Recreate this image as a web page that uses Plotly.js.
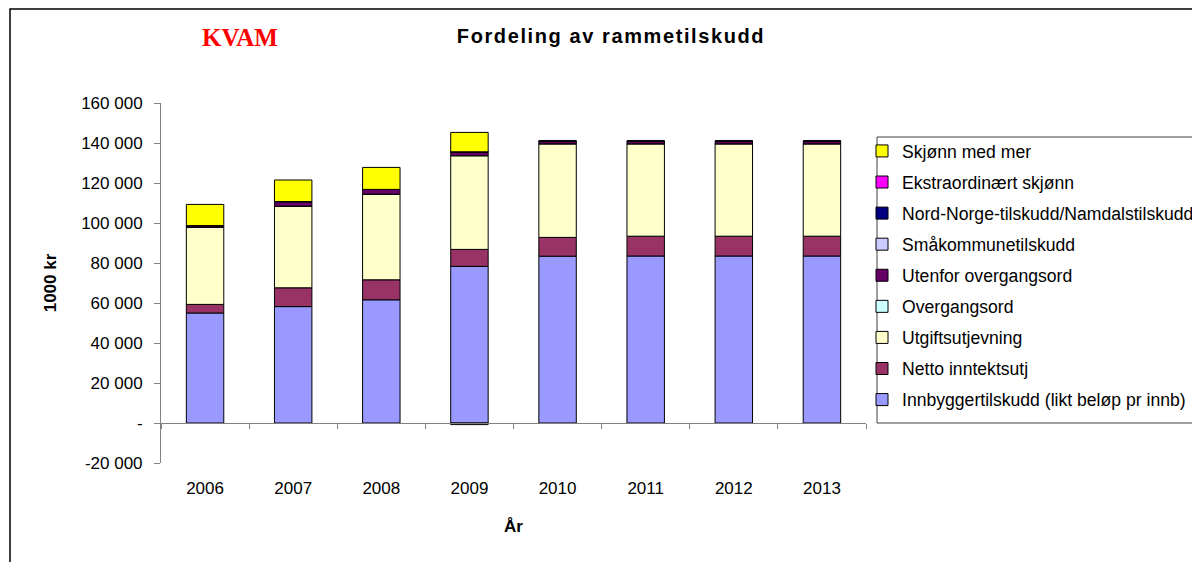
<!DOCTYPE html>
<html>
<head>
<meta charset="utf-8">
<script src="https://cdn.plot.ly/plotly-3.0.1.min.js"></script>
<style>
  html, body { margin: 0; padding: 0; background: #fff; }
  #chart { width: 1192px; height: 562px; }
  .gtitle { letter-spacing: 1.6px; }
</style>
</head>
<body>
<div id="chart"></div>
<script>
const years = ["2006", "2007", "2008", "2009", "2010", "2011", "2012", "2013"];

const innbyggertilskudd = [55000, 58200, 61600, 78300, 83400, 83500, 83500, 83500];
const nettoInntektsutj  = [4300, 9400, 10000, 8500, 9400, 9900, 9900, 9900];
const utgiftsutjevning  = [38600, 40800, 42800, 46800, 46800, 46200, 46200, 46200];
const overgangsord      = [0, 0, 0, -800, 0, 0, 0, 0];
const utenforOvergang   = [800, 2300, 2400, 2000, 1300, 1300, 1300, 1300];
const smakommune        = [0, 0, 0, 0, 0, 0, 0, 0];
const nordNorge         = [0, 0, 0, 0, 0, 0, 0, 0];
const ekstraordinaert   = [0, 0, 0, 0, 0, 0, 0, 0];
const skjonnMedMer      = [10600, 10800, 11000, 9700, 0, 0, 0, 0];

const yTickVals  = [-20000, 0, 20000, 40000, 60000, 80000, 100000, 120000, 140000, 160000];
const yTickText  = ["-20 000", "-", "20 000", "40 000", "60 000", "80 000", "100 000", "120 000", "140 000", "160 000"];

const seriesDefs = [
  ["Innbyggertilskudd (likt beløp pr innb)", innbyggertilskudd, "#9999FF"],
  ["Netto inntektsutj", nettoInntektsutj, "#993366"],
  ["Utgiftsutjevning", utgiftsutjevning, "#FFFFCC"],
  ["Overgangsord", overgangsord, "#CCFFFF"],
  ["Utenfor overgangsord", utenforOvergang, "#660066"],
  ["Småkommunetilskudd", smakommune, "#CCCCFF"],
  ["Nord-Norge-tilskudd/Namdalstilskudd", nordNorge, "#000080"],
  ["Ekstraordinært skjønn", ekstraordinaert, "#FF00FF"],
  ["Skjønn med mer", skjonnMedMer, "#FFFF00"]
];

const FONT = "Liberation Sans, Arial, sans-serif";

const traces = seriesDefs.map(function (d, i) {
  return {
    type: "bar",
    name: d[0],
    x: years,
    y: d[1],
    legendgroup: "g" + i,
    legendrank: 1000 - i,
    marker: { color: d[2], line: { color: "#000000", width: 1 } },
    hoverinfo: "x+y+name"
  };
});

// helper trace so the zero-line category axis gets its categories
traces.push({
  type: "scatter", mode: "markers", x: years, y: years.map(function () { return null; }),
  xaxis: "x2", yaxis: "y", showlegend: false, hoverinfo: "skip"
});

// plot area geometry (pixels)
const L = 161, R = 866, T = 103, B = 463, W = 1192, H = 562;
function px(x) { return (x - L) / (R - L); }
function py(y) { return (B - y) / (B - T); }

const layout = {
  width: W, height: H,
  margin: { l: L, r: W - R, t: T, b: H - B, autoexpand: false, pad: 0 },
  paper_bgcolor: "#ffffff",
  plot_bgcolor: "#ffffff",
  barmode: "relative",
  bargap: 0.575,
  font: { family: FONT, size: 17, color: "#000000" },
  title: {
    text: "<b>Fordeling av rammetilskudd</b>",
    font: { family: FONT, size: 20, color: "#000000" },
    xref: "container", yref: "container",
    x: 611 / W, xanchor: "center",
    y: 1 - 36 / H, yanchor: "middle"
  },
  xaxis: {
    type: "category",
    categoryarray: years,
    range: [-0.5, 7.5],
    anchor: "y",
    showline: false,
    showgrid: false,
    zeroline: false,
    ticks: "",
    ticklabelstandoff: 13,
    tickfont: { family: FONT, size: 17, color: "#000000" },
    title: { text: "<b>År</b>", font: { family: FONT, size: 17, color: "#000000" }, standoff: 23 }
  },
  xaxis2: {
    type: "category",
    categoryarray: years,
    range: [-0.5, 7.5],
    overlaying: "x",
    anchor: "free",
    position: 20000 / 180000,
    side: "bottom",
    showline: true, linecolor: "#808080", linewidth: 1,
    ticks: "outside", tickson: "boundaries", ticklen: 5, tickcolor: "#808080", tickwidth: 1,
    showticklabels: false, showgrid: false, zeroline: false
  },
  yaxis: {
    range: [-20000, 160000],
    tickmode: "array",
    tickvals: yTickVals,
    ticktext: yTickText,
    ticks: "outside", ticklen: 6, tickcolor: "#808080", tickwidth: 1,
    ticklabelstandoff: 8,
    showline: true, linecolor: "#808080", linewidth: 1,
    showgrid: false, zeroline: false,
    tickfont: { family: FONT, size: 17, color: "#000000" },
    title: { text: "<b>1000 kr</b>", font: { family: FONT, size: 17, color: "#000000" }, standoff: 20 }
  },
  legend: {
    x: px(862), xanchor: "left",
    y: py(133), yanchor: "top",
    traceorder: "grouped",
    tracegroupgap: 5.2,
    bgcolor: "rgba(0,0,0,0)",
    borderwidth: 0,
    font: { family: FONT, size: 17.6, color: "#000000" }
  },
  annotations: [{
    text: "<b>KVAM</b>",
    xref: "paper", yref: "paper",
    x: px(240), y: py(37), xanchor: "center", yanchor: "middle",
    showarrow: false,
    font: { family: "Liberation Serif, Times New Roman, serif", size: 25, color: "#FF0000" }
  }],
  shapes: [
    { type: "rect", xref: "paper", yref: "paper",
      x0: px(10), x1: px(1220), y0: py(600), y1: py(9),
      line: { color: "#000000", width: 1.5 }, fillcolor: "rgba(0,0,0,0)", layer: "above" },
    { type: "rect", xref: "paper", yref: "paper",
      x0: px(877), x1: px(1220), y0: py(423), y1: py(137),
      line: { color: "#404040", width: 1 }, fillcolor: "rgba(0,0,0,0)", layer: "above" }
  ],
  showlegend: true
};

Plotly.newPlot("chart", traces, layout, { displayModeBar: false, staticPlot: true });
</script>
</body>
</html>
